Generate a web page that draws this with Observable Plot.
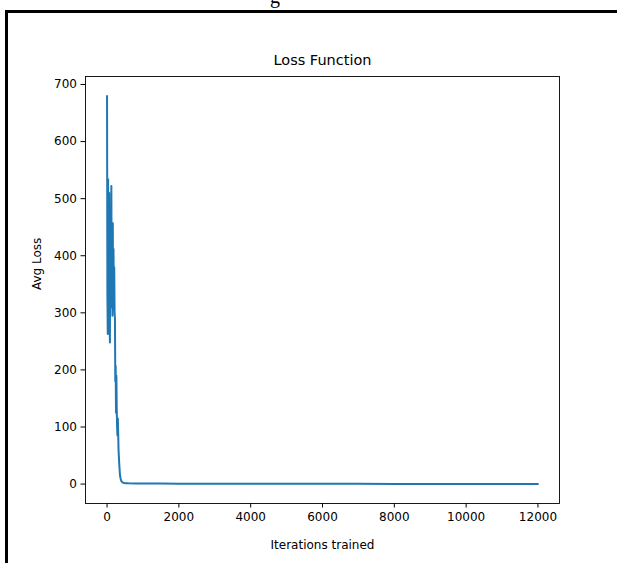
<!DOCTYPE html>
<html>
<head>
<meta charset="utf-8">
<script src="https://cdn.jsdelivr.net/npm/d3@7"></script>
<script src="https://cdn.jsdelivr.net/npm/@observablehq/plot@0.6"></script>
<style>
  html, body { margin: 0; padding: 0; background: #fff; width: 617px; height: 563px; overflow: hidden; }
  #cut { position: absolute; left: 270px; top: -15px; font: 20px "Liberation Serif", serif; color: #000; }
  #frame { position: absolute; left: 5px; top: 10px; width: 640px; height: 600px; border-left: 3px solid #000; border-top: 3px solid #000; box-sizing: border-box; }
  #chart { position: absolute; left: 0; top: 0; }
</style>
</head>
<body>
<div id="cut">g</div>
<div id="chart"></div>
<div id="frame"></div>
<script>
const title = "Loss Function";
const xLabel = "Iterations trained";
const yLabel = "Avg Loss";
const xTicks = [0, 2000, 4000, 6000, 8000, 10000, 12000];
const yTicks = [0, 100, 200, 300, 400, 500, 600, 700];

const iterations = [0, 10, 20, 30, 40, 50, 60, 70, 80, 90, 100, 110, 120, 130, 140, 150, 160, 170, 180, 190,
  200, 210, 220, 230, 240, 250, 260, 270, 280, 290, 300, 310, 320, 340, 360, 380, 400, 430, 470, 520,
  600, 800, 1000, 1500, 2000, 3000, 4000, 5000, 6000, 7000, 8000, 9000, 10000, 11000, 12000];
const avgLoss = [680, 330, 263, 534, 300, 265, 510, 280, 248, 480, 330, 400, 522, 310, 440, 295, 457, 320, 412, 306,
  380, 300, 290, 180, 207, 125, 190, 130, 100, 85, 115, 90, 60, 35, 16, 9, 5, 3, 2, 1.6,
  1.3, 1.1, 1.0, 0.9, 0.8, 0.6, 0.5, 0.45, 0.4, 0.38, 0.35, 0.33, 0.32, 0.3, 0.3];

const data = iterations.map((it, i) => ({it, loss: avgLoss[i]}));

const chart = Plot.plot({
  width: 617,
  height: 563,
  marginLeft: 85,
  marginRight: 58,
  marginTop: 76,
  marginBottom: 60,
  style: {fontFamily: "DejaVu Sans", fontSize: "12px", background: "transparent", color: "#000"},
  x: {domain: [-600, 12600]},
  y: {domain: [-34, 714]},
  marks: [
    Plot.line(data, {x: "it", y: "loss", stroke: "#1f77b4", strokeWidth: 2}),
    Plot.frame({stroke: "#000", strokeWidth: 0.9}),
    Plot.axisX({ticks: xTicks, tickSize: 4.5, tickPadding: 4, tickFormat: d => String(d), label: null, fontSize: 12}),
    Plot.axisY({ticks: yTicks, tickSize: 4.5, tickPadding: 4, tickFormat: d => String(d), label: null, fontSize: 12}),
    Plot.text([title], {frameAnchor: "top", dy: -22, text: d => d, fontSize: 14.5, fill: "#000"}),
    Plot.text([xLabel], {frameAnchor: "bottom", dy: 45, text: d => d, fontSize: 12, fill: "#000"}),
    Plot.text([yLabel], {frameAnchor: "left", dx: -48, rotate: -90, text: d => d, fontSize: 12, fill: "#000"})
  ]
});
document.getElementById("chart").append(chart);
</script>
</body>
</html>
